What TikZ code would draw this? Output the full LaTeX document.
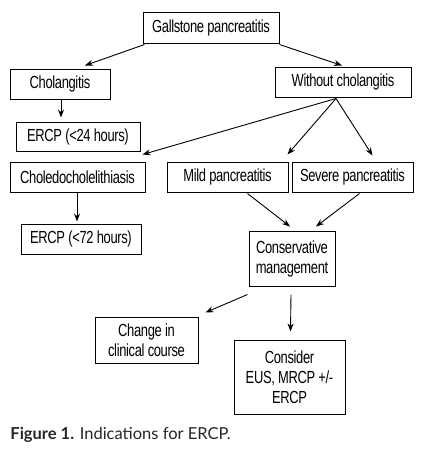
\documentclass[tikz,border=0pt]{standalone}
\usepackage{fontspec}
\setmainfont{Liberation Sans}[FakeStretch=0.74,LetterSpace=-2]
\newfontfamily\capfont{Lato}
\usetikzlibrary{arrows.meta}
\tikzset{
  box/.style={draw, line width=1pt, align=center, inner sep=0pt, font=\fontsize{17.5}{20}\selectfont},
}
\begin{document}
\begin{tikzpicture}[x=1pt, y=-1pt, >={Stealth[length=8pt,width=6pt]}, line width=0.9pt]
\useasboundingbox (0,0) rectangle (444,456);
\node[box, minimum width=136pt, minimum height=31pt] (gall) at (211,27.5) {Gallstone pancreatitis};
\node[box, minimum width=100pt, minimum height=30pt] (chol) at (60,84) {Cholangitis};
\node[box, minimum width=136pt, minimum height=30pt] (without) at (343,82) {Without cholangitis};
\node[box, minimum width=124pt, minimum height=29pt] (ercpa) at (78,136.5) {ERCP (<24 hours)};
\node[box, minimum width=135pt, minimum height=30pt] (choledo) at (77.5,177) {Choledocholelithiasis};
\node[box, minimum width=121pt, minimum height=30pt] (mild) at (227.5,177) {Mild pancreatitis};
\node[box, minimum width=121pt, minimum height=30pt] (severe) at (352.5,177) {Severe pancreatitis};
\node[box, minimum width=120pt, minimum height=30pt] (ercpb) at (81,239) {ERCP (<72 hours)};
\node[box, minimum width=86pt, minimum height=55pt] (cons) at (292,258.5) {Conservative\\management};
\node[box, minimum width=103pt, minimum height=46pt] (change) at (146.5,340) {Change in\\clinical course};
\node[box, minimum width=111pt, minimum height=74pt] (consider) at (289.5,377) {Consider\\EUS, MRCP +/-\\ERCP};
\draw[->] ([xshift=2pt,yshift=-1pt]gall.south west) -- ([xshift=25pt,yshift=3pt]chol.north);
\draw[->] ([yshift=-1pt]gall.south east) -- ([xshift=-1pt,yshift=1pt]without.north);
\draw[->] ([xshift=1pt]chol.south) -- ([xshift=-17pt,yshift=4pt]ercpa.north);
\draw[->] ([xshift=-7pt,yshift=-1pt]without.south) -- ([xshift=-3pt,yshift=7pt]choledo.north east);
\draw[->] ([xshift=-7pt,yshift=-1pt]without.south) -- ([xshift=-1pt,yshift=7pt]mild.north east);
\draw[->] ([xshift=-7pt,yshift=-1pt]without.south) -- ([xshift=20pt,yshift=6pt]severe.north);
\draw[->] ([xshift=-0.5pt]choledo.south) -- ([xshift=-4pt,yshift=2pt]ercpb.north);
\draw[->] ([xshift=20pt,yshift=-1pt]mild.south) -- ([xshift=-2pt,yshift=4pt]cons.north);
\draw[->] ([xshift=7pt,yshift=-1pt]severe.south) -- ([xshift=24pt,yshift=4pt]cons.north);
\draw[->] ([xshift=-1pt,yshift=-8pt]cons.south west) -- ([xshift=7pt,yshift=4pt]change.north east);
\draw[->] ([xshift=-1pt,yshift=-8pt]cons.south) -- ([xshift=1pt,yshift=8pt]consider.north);
\node[anchor=west, inner sep=0pt, text=black!85, font=\capfont\fontsize{16.5}{20}\selectfont] (caption) at (10,435)
  {\textbf{Figure 1.} Indications for ERCP.};
\end{tikzpicture}
\end{document}
